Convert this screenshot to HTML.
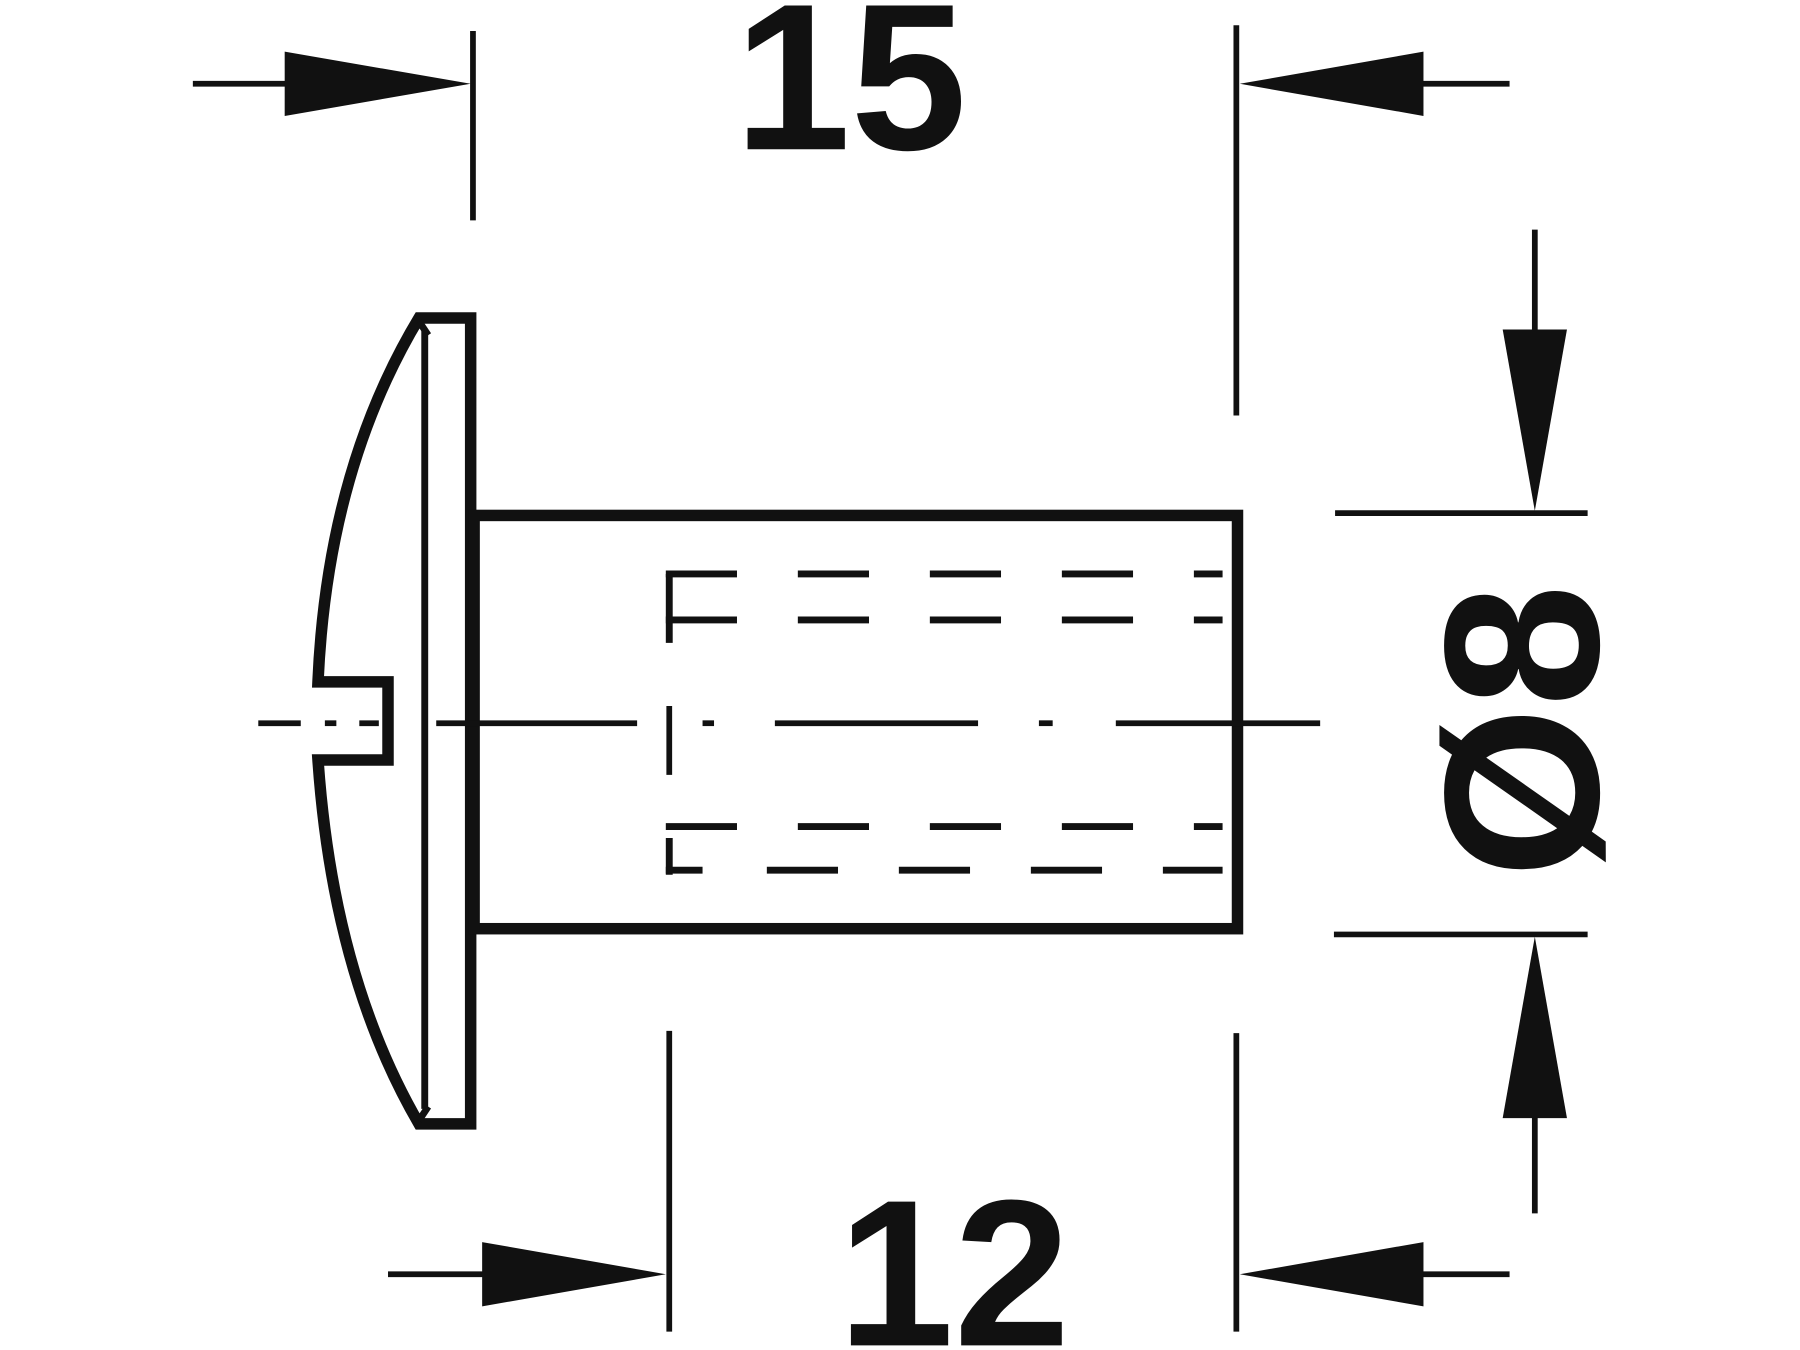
<!DOCTYPE html>
<html><head><meta charset="utf-8"><style>
html,body{margin:0;padding:0;background:#fff;}
svg{display:block;}
</style></head><body>
<svg width="1800" height="1350" viewBox="0 0 1568 1176" xmlns="http://www.w3.org/2000/svg">
<rect width="1568" height="1176" fill="#fff"/>
<g stroke="#111" stroke-width="5" fill="none">
  <line x1="412" y1="27" x2="412" y2="192"/>
  <line x1="1077" y1="22" x2="1077" y2="362"/>
  <line x1="583" y1="898" x2="583" y2="1160"/>
  <line x1="1077" y1="900" x2="1077" y2="1160"/>
  <line x1="1163" y1="447" x2="1383" y2="447"/>
  <line x1="1162" y1="814" x2="1383" y2="814"/>
  <line x1="168" y1="73" x2="260" y2="73"/>
  <line x1="1230" y1="73" x2="1315" y2="73"/>
  <line x1="338" y1="1110" x2="430" y2="1110"/>
  <line x1="1230" y1="1110" x2="1315" y2="1110"/>
  <line x1="1337" y1="200" x2="1337" y2="300"/>
  <line x1="1337" y1="960" x2="1337" y2="1057"/>
</g>
<g fill="#111">
  <polygon points="410,73 248,45 248,101"/>
  <polygon points="1080,73 1240,45 1240,101"/>
  <polygon points="580,1110 420,1082 420,1138"/>
  <polygon points="1080,1110 1240,1082 1240,1138"/>
  <polygon points="1337,445 1309,287 1365,287"/>
  <polygon points="1337,816 1309,974 1365,974"/>
</g>
<g stroke="#111" stroke-width="10" fill="none" stroke-linejoin="miter">
  <path d="M365,277 L410,277 L410,979 L365,979 Q290,850 277,662 L338,662 L338,594 L277,594 Q285,410 365,277 Z"/>
  <rect x="413" y="449" width="665" height="360"/>
</g>
<g stroke="#111" stroke-width="6" fill="none">
  <line x1="370" y1="288" x2="370" y2="966"/>
  <line x1="365" y1="280" x2="373" y2="292"/>
  <line x1="365" y1="976" x2="373" y2="964"/>
</g>
<g stroke="#111" stroke-width="6" fill="none">
  <line x1="583" y1="500" x2="583" y2="560"/>
  <line x1="583" y1="730" x2="583" y2="762"/>
  <line x1="580" y1="500" x2="642" y2="500"/>
  <line x1="580" y1="540" x2="642" y2="540"/>
  <line x1="695" y1="500" x2="1065" y2="500" stroke-dasharray="62 53"/>
  <line x1="695" y1="540" x2="1065" y2="540" stroke-dasharray="62 53"/>
  <line x1="580" y1="720" x2="1065" y2="720" stroke-dasharray="62 53"/>
  <line x1="580" y1="758" x2="612" y2="758"/>
  <line x1="668" y1="758" x2="1065" y2="758" stroke-dasharray="62 53"/>
</g>
<g stroke="#111" stroke-width="5" fill="none">
  <line x1="225" y1="630" x2="262" y2="630"/>
  <line x1="283" y1="630" x2="293" y2="630"/>
  <line x1="313" y1="630" x2="330" y2="630"/>
  <line x1="380" y1="630" x2="555" y2="630"/>
  <line x1="583" y1="615" x2="583" y2="675"/>
  <line x1="612" y1="630" x2="622" y2="630"/>
  <line x1="675" y1="630" x2="852" y2="630"/>
  <line x1="905" y1="630" x2="917" y2="630"/>
  <line x1="972" y1="630" x2="1150" y2="630"/>
</g>
<g font-family="Liberation Sans, sans-serif" font-weight="bold" fill="#111">
  <text x="741" y="130" font-size="182" text-anchor="middle">15</text>
  <text x="831" y="1172" font-size="182" text-anchor="middle">12</text>
  <text transform="translate(1392,637) rotate(-90)" font-size="192" text-anchor="middle">Ø8</text>
</g>
</svg>
</body></html>
